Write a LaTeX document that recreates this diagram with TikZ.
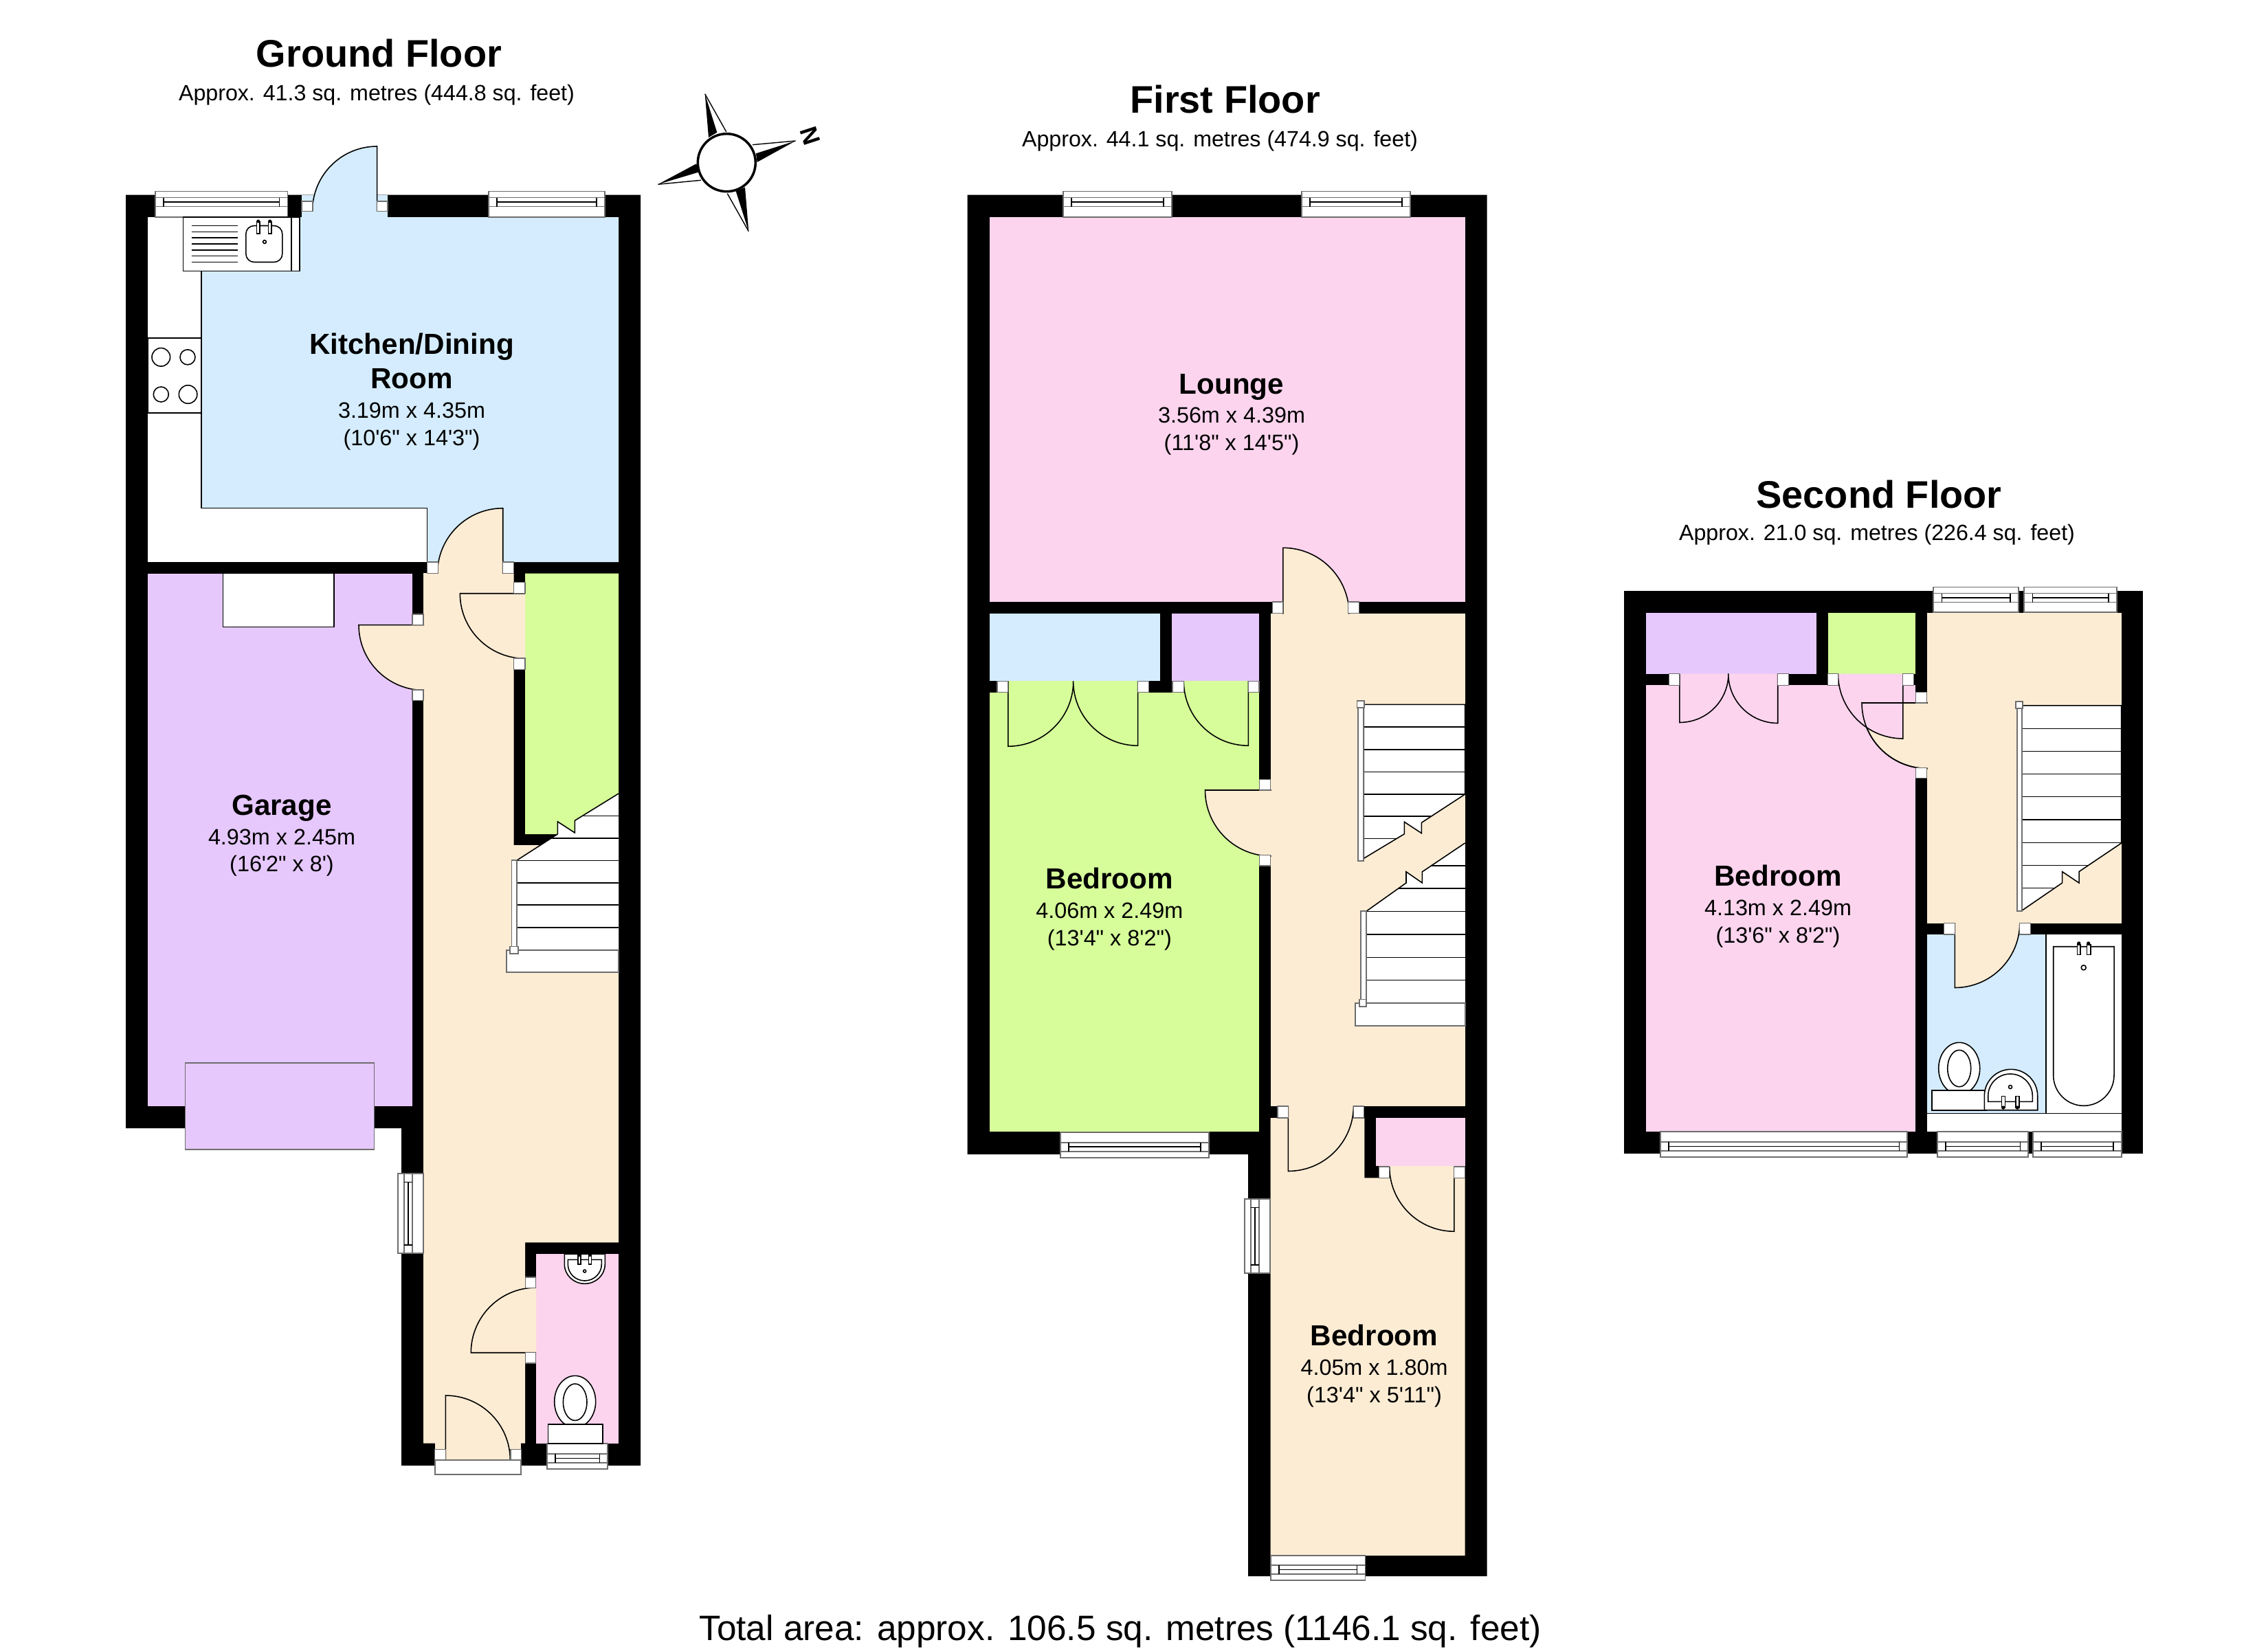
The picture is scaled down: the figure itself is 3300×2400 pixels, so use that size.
\documentclass[tikz,border=0pt]{standalone}
\usepackage{fontspec}
\newfontfamily\planfont{Liberation Sans}
\definecolor{roomblue}{RGB}{212,236,253}
\definecolor{roompurple}{RGB}{230,200,252}
\definecolor{roomgreen}{RGB}{214,253,154}
\definecolor{roomcream}{RGB}{253,236,212}
\definecolor{roompink}{RGB}{252,212,238}
\definecolor{framegrey}{RGB}{110,110,110}
\tikzset{
    wall/.style={fill=black},
    fineline/.style={draw=black, line width=0.45pt},
    fixture/.style={draw=black, line width=0.45pt, fill=white},
    jamb/.style={draw=framegrey, line width=0.3pt, fill=white},
    frame/.style={draw=framegrey, line width=0.55pt, fill=white},
    floortitle/.style={font=\planfont\bfseries\fontsize{15.9}{18}\selectfont, inner sep=0pt},
    floorarea/.style={font=\planfont\fontsize{9.15}{11}\selectfont, inner sep=0pt},
    roomlabel/.style={font=\planfont\fontsize{9.2}{11.2}\selectfont, align=center, inner sep=0pt},
    totalarea/.style={font=\planfont\fontsize{14.6}{17}\selectfont, inner sep=0pt}
}
% hinge x, hinge y, leaf angle, end angle, radius, colour
\newcommand{\doorswing}[6]{
    \fill[#6] (#1,#2) -- +(#3:#5) arc[start angle=#3, end angle=#4, radius=#5] -- cycle;
    \draw[fineline] (#1,#2) -- +(#3:#5) arc[start angle=#3, end angle=#4, radius=#5];
}
% left x, right x, outer y, inner y, direction to the inside
\newcommand{\hwindow}[5]{
    \draw[frame] (#1,#3) rectangle (#2,#4);
    \draw[frame] (#1,#3+#5*9) -- (#2,#3+#5*9) (#1,#3+#5*22) -- (#2,#3+#5*22);
    \draw[fineline] (#1+12,#3+#5*9) -- (#1+12,#3+#5*22) (#2-12,#3+#5*9) -- (#2-12,#3+#5*22) (#1+12,#3+#5*15.5) -- (#2-12,#3+#5*15.5);
}
% outer x, inner x, top y, bottom y
\newcommand{\vwindow}[4]{
    \draw[frame] (#1,#3) rectangle (#2,#4);
    \draw[frame] (#1+8.5,#3) -- (#1+8.5,#4) (#1+21,#3) -- (#1+21,#4);
    \draw[fineline] (#1+8.5,#3+12) -- (#1+21,#3+12) (#1+8.5,#4-12) -- (#1+21,#4-12) (#1+14.7,#3+12) -- (#1+14.7,#4-12);
}
\newcommand{\roomname}[1]{{\fontsize{12}{14}\selectfont\bfseries #1}}
\begin{document}
\begin{tikzpicture}[x=0.01cm, y=-0.01cm]
    \useasboundingbox (0,0) rectangle (3300,2400);

    % Ground Floor walls and rooms
    \fill[wall] (183,283.6) -- (932,283.6) -- (932,2133) -- (584,2133) -- (584,1642) -- (183,1642) -- cycle;
    \fill[white] (215,316) rectangle (900,818);
    \fill[roomblue] (293,316) -- (900,316) -- (900,818) -- (621.5,818) -- (621.5,739.7) -- (293,739.7) -- cycle;
    \fill[roomblue] (439,283.6) rectangle (564,316);
    \draw[fineline] (293,394) -- (293,739.7) -- (621.5,739.7) -- (621.5,818);
    \fill[roompurple] (215,834.6) rectangle (600,1610);
    \fill[roomcream] (616,834) -- (747.6,834) -- (747.6,1230) -- (785.6,1230) -- (811.3,1214) -- (900,1214) -- (900,1808.3) -- (764,1808.3) -- (764,2100.7) -- (616,2100.7) -- cycle;
    \fill[roomgreen] (764,834.6) -- (900,834.6) -- (900,1155) -- (836.3,1194.3) -- (836.3,1212) -- (811.3,1195.8) -- (811.3,1214) -- (764,1214) -- cycle;
    \fill[roompink] (780,1825) rectangle (900,2100.7);
    \fill[roomcream] (632.7,2100) rectangle (758.3,2109.3);
    \fill[roomcream] (648.3,2100) rectangle (743,2125);

    % Ground Floor stairs
    \draw[fixture] (900,1155) -- (836.3,1194.3) -- (836.3,1212) -- (811.3,1195.8) -- (811.3,1214) -- (751.6,1252.4) -- (751.6,1382.6) -- (900,1382.6);
    \draw[fineline] (847,1187.6) -- (900,1187.6) (802.3,1219.8) -- (900,1219.8) (751.6,1252.4) -- (900,1252.4) (751.6,1285) -- (900,1285) (751.6,1317) -- (900,1317) (751.6,1350) -- (900,1350);
    \draw[frame] (737.3,1382.6) rectangle (900,1415);
    \draw[frame] (744.5,1252.4) rectangle (751.6,1383);
    \draw[frame] (742.4,1377.5) rectangle (753.7,1388);

    % Ground Floor doors
    \doorswing{548.6}{307}{-90}{-180}{94}{roomblue}
    \doorswing{731.7}{835}{-90}{-180}{95.3}{roomcream}
    \doorswing{764}{863.7}{180}{90}{94.7}{roomcream}
    \doorswing{617}{909.6}{180}{90}{95}{roomcream}
    \doorswing{780}{1968.7}{180}{270}{94.7}{roomcream}
    \doorswing{648.3}{2125}{-90}{0}{94}{roomcream}
    \draw[jamb] (439,293) rectangle (455,307.5);
    \draw[jamb] (548.6,293) rectangle (564,307.5);
    \draw[jamb] (621.5,818) rectangle (637.3,834.6);
    \draw[jamb] (731.7,818) rectangle (747.6,834.6);
    \draw[jamb] (747.6,847.3) rectangle (764,863.7);
    \draw[jamb] (747.6,958) rectangle (764,974.4);
    \draw[jamb] (600,894) rectangle (616,909.6);
    \draw[jamb] (600,1004) rectangle (616,1019.3);
    \draw[jamb] (764.3,1859) rectangle (779.6,1874.3);
    \draw[jamb] (764.3,1968.7) rectangle (779.6,1984);
    \draw[jamb] (632.7,2109.3) rectangle (648.3,2125);
    \draw[jamb] (743,2109.3) rectangle (758.3,2125);
    \draw[frame] (632.7,2125) rectangle (758.3,2146);

    % Ground Floor windows
    \hwindow{226}{418.5}{278.5}{316}{1}
    \hwindow{711}{880}{278.5}{316}{1}
    \hwindow{795.7}{884.3}{2138}{2101.3}{-1}
    \vwindow{579.3}{616}{1708.3}{1824}

    % Ground Floor fittings
    \draw[fixture] (266.4,316) rectangle (436,394.3);
    \draw[fineline] (424,316) -- (424,394.3);
    \draw[fineline] (278.7,328.5) -- (345.5,328.5) (278.7,337.3) -- (345.5,337.3) (278.7,346.1) -- (345.5,346.1) (278.7,355) -- (345.5,355) (278.7,363.8) -- (345.5,363.8) (278.7,372.6) -- (345.5,372.6) (278.7,381.5) -- (345.5,381.5);
    \draw[fixture, rounded corners=0.12cm] (357.8,328.5) rectangle (410.8,381.5);
    \draw[fixture] (373.5,323) rectangle (378,340);
    \draw[fixture] (390.5,323) rectangle (395,340);
    \fill[black] (375.7,322) circle (2.5);
    \fill[black] (392.7,322) circle (2.5);
    \draw[fixture] (385,352) circle (2.4);
    \draw[fixture] (215,492) rectangle (293,601);
    \draw[fixture] (234.3,519.8) circle (13.3);
    \draw[fixture] (273,519.8) circle (11);
    \draw[fixture] (234.3,574) circle (11);
    \draw[fixture] (273.6,574) circle (13.3);
    \draw[fixture] (324.6,834.6) rectangle (486,912.6);
    \draw[draw=framegrey, line width=0.55pt, fill=roompurple] (269.5,1547) rectangle (544.5,1673);
    \draw[fixture] (836.7,2040) circle [x radius=30, y radius=37.7];
    \draw[fixture] (836.7,2040.7) circle [x radius=17.3, y radius=26.7];
    \draw[fixture] (797.3,2072.7) rectangle (876.7,2100.7);
    \draw[fixture] (821.3,1825) -- (821.3,1840) arc[start angle=180, end angle=0, x radius=29.5, y radius=28.3] -- (880.3,1825) -- cycle;
    \draw[fixture] (826.3,1833.3) -- (875.3,1833.3) -- (875.3,1840) arc[start angle=0, end angle=180, x radius=24.5, y radius=24] -- cycle;
    \draw[fixture] (850.7,1850) circle (2);
    \draw[fixture] (841,1827) rectangle (845,1840);
    \draw[fixture] (856.3,1827) rectangle (860.3,1840);
    \fill[black] (843,1827) circle (2);
    \fill[black] (858.3,1827) circle (2);

    % First Floor walls and rooms
    \fill[wall] (1407.7,283.6) -- (2163.7,283.6) -- (2163.7,2294) -- (1816.2,2294) -- (1816.2,1680) -- (1407.7,1680) -- cycle;
    \fill[roompink] (1439.8,316) rectangle (2131.6,876);
    \fill[roomcream] (1848.5,892.8) rectangle (2131.6,1610);
    \fill[roomcream] (1866.8,876) rectangle (1961.8,893.5);
    \fill[roomblue] (1439.8,892.8) rectangle (1688.3,991.2);
    \fill[roompurple] (1705,892.8) rectangle (1832,991.2);
    \fill[roomgreen] (1439.8,1007.5) rectangle (1832,1647.4);
    \fill[roomgreen] (1466.8,991.2) rectangle (1655.6,1008);
    \fill[roomgreen] (1722.4,991.2) rectangle (1816.3,1008);
    \fill[roomcream] (1848.5,1627) -- (1985.4,1627) -- (1985.4,1714.3) -- (2131.6,1714.3) -- (2131.6,2264) -- (1848.5,2264) -- cycle;
    \fill[roomcream] (1874.4,1609) rectangle (1969,1628);
    \fill[roompink] (2002.2,1627) rectangle (2131.6,1697);
    \fill[roomcream] (2021.7,1697) rectangle (2115.9,1715);

    % First Floor stairs
    \draw[fixture] (1984.2,1025.4) -- (2131.6,1025.4) -- (2131.6,1156) -- (2068.4,1197.3) -- (2068.4,1212.7) -- (2043.4,1196.3) -- (2043.4,1213.7) -- (1984.2,1249.4) -- cycle;
    \draw[fineline] (1984.2,1058) -- (2131.6,1058) (1984.2,1090.7) -- (2131.6,1090.7) (1984.2,1123.4) -- (2131.6,1123.4) (1984.2,1156) -- (2131.6,1156) (1984.2,1188) -- (2082.6,1188) (1984.2,1220.3) -- (2032.5,1220.3);
    \draw[frame] (1976,1025) rectangle (1984,1253);
    \draw[frame] (1974.5,1020) rectangle (1985,1030);
    \draw[fixture] (2131.6,1227) -- (2069.4,1268.8) -- (2069.4,1285) -- (2046,1268.8) -- (2046,1285) -- (1987.8,1326.4) -- (1987.8,1459.6) -- (2131.6,1459.6);
    \draw[fineline] (2082.5,1260) -- (2131.6,1260) (2034.8,1293) -- (2131.6,1293) (1987.8,1326.4) -- (2131.6,1326.4) (1987.8,1360) -- (2131.6,1360) (1987.8,1393.3) -- (2131.6,1393.3) (1987.8,1426.4) -- (2131.6,1426.4);
    \draw[frame] (1972.4,1459.6) rectangle (2131.6,1492.8);
    \draw[frame] (1979.6,1326.4) rectangle (1987.8,1459.6);
    \draw[frame] (1977.6,1454.5) rectangle (1988.3,1465);

    % First Floor doors
    \doorswing{1866.8}{893.5}{-90}{0}{96.2}{roomcream}
    \doorswing{1466.8}{991.2}{90}{0}{95}{roomgreen}
    \doorswing{1655.6}{991.2}{90}{180}{94}{roomgreen}
    \doorswing{1816.3}{991.2}{90}{180}{94}{roomgreen}
    \doorswing{1849.5}{1150}{180}{90}{96}{roomcream}
    \doorswing{1874.4}{1609.5}{90}{0}{95}{roomcream}
    \doorswing{2115.9}{1698}{90}{180}{94.2}{roomcream}
    \draw[jamb] (1851.5,876) rectangle (1866.8,892.8);
    \draw[jamb] (1961.7,876) rectangle (1977.6,892.8);
    \draw[jamb] (1451,991.2) rectangle (1466.8,1007.5);
    \draw[jamb] (1655.6,991.2) rectangle (1671.4,1007.5);
    \draw[jamb] (1706,991.2) rectangle (1722.4,1007.5);
    \draw[jamb] (1816.3,991.2) rectangle (1832,1007.5);
    \draw[jamb] (1832.7,1134.6) rectangle (1848.5,1150);
    \draw[jamb] (1832.7,1244.3) rectangle (1848.5,1260);
    \draw[jamb] (1859,1610) rectangle (1874.4,1627);
    \draw[jamb] (1969,1610) rectangle (1984.2,1627);
    \draw[jamb] (2006,1698) rectangle (2021.7,1714.3);
    \draw[jamb] (2115.9,1698) rectangle (2131.6,1714.3);

    % First Floor windows
    \hwindow{1547}{1705}{278.5}{316}{1}
    \hwindow{1894}{2052}{278.5}{316}{1}
    \hwindow{1543}{1759}{1684.7}{1648}{-1}
    \hwindow{1848.8}{1986.5}{2300}{2264}{-1}
    \vwindow{1811.2}{1848}{1745.4}{1853}

    % Second Floor walls and rooms
    \fill[wall] (2362.8,860) rectangle (3118.4,1679.3);
    \fill[roompurple] (2395,892.4) rectangle (2643.4,980.5);
    \fill[roomgreen] (2660.2,892.4) rectangle (2787.2,980.5);
    \fill[roompink] (2395,997.3) rectangle (2787.2,1647);
    \fill[roompink] (2443.9,980.5) rectangle (2586.7,998);
    \fill[roompink] (2674.5,980.5) rectangle (2768.9,998);
    \fill[roomcream] (2803.6,892.4) rectangle (3086.7,1343.5);
    \fill[roomcream] (2844.3,1343) rectangle (2938.7,1360.5);
    \fill[roomblue] (2803.7,1360) rectangle (2976.7,1620.3);
    \fill[white] (2976.7,1360) rectangle (3086.7,1620.3);
    \fill[white] (2803.7,1620.3) rectangle (3086.7,1647);
    \draw[fineline] (2976.7,1360) -- (2976.7,1620.3) (2803.7,1620.3) -- (3086.7,1620.3);

    % Second Floor stairs
    \draw[fixture] (2941.8,1026.8) -- (3086.7,1026.8) -- (3086.7,1227) -- (3025,1268.6) -- (3025,1285) -- (3000.5,1268.6) -- (3000.5,1285) -- (2941.8,1325.3) -- cycle;
    \draw[fineline] (2941.8,1060.4) -- (3086.7,1060.4) (2941.8,1093.4) -- (3086.7,1093.4) (2941.8,1126.3) -- (3086.7,1126.3) (2941.8,1159.6) -- (3086.7,1159.6) (2941.8,1193.2) -- (3086.7,1193.2) (2941.8,1226.5) -- (3086.7,1226.5) (2941.8,1259.4) -- (3038.6,1259.4) (2941.8,1292.3) -- (2989.9,1292.3);
    \draw[frame] (2934.7,1026.4) rectangle (2941.8,1326);
    \draw[frame] (2933.2,1021) rectangle (2943.4,1031.3);

    % Second Floor doors
    \doorswing{2443.9}{980.5}{90}{0}{71}{roompink}
    \doorswing{2586.7}{980.5}{90}{180}{72}{roompink}
    \doorswing{2804.5}{1023}{180}{90}{95.5}{roomcream}
    \doorswing{2768.9}{980.5}{90}{180}{94.5}{roompink}
    \draw[fineline] (2804.5,1023) -- (2709,1023) arc[start angle=180, end angle=90, radius=95.5];
    \doorswing{2844.3}{1343}{90}{0}{94.5}{roomcream}
    \draw[jamb] (2428,980.5) rectangle (2443.9,997.3);
    \draw[jamb] (2586.7,980.5) rectangle (2602,997.3);
    \draw[jamb] (2659.2,980.5) rectangle (2674.5,997.3);
    \draw[jamb] (2768.9,980.5) rectangle (2784.2,997.3);
    \draw[jamb] (2787.7,1007.2) rectangle (2803,1023);
    \draw[jamb] (2787.7,1117.5) rectangle (2803,1132.8);
    \draw[jamb] (2828.7,1343.5) rectangle (2844.3,1360);
    \draw[jamb] (2938.7,1343.5) rectangle (2954,1360);

    % Second Floor windows
    \hwindow{2813.3}{2936.7}{854.5}{891}{1}
    \hwindow{2945.4}{3080}{854.5}{891}{1}
    \hwindow{2416}{2775.3}{1684}{1647}{-1}
    \hwindow{2819}{2951.3}{1684}{1647}{-1}
    \hwindow{2958}{3087}{1684}{1647}{-1}

    % Second Floor fittings
    \draw[fixture] (2987.7,1377.7) -- (3076,1377.7) -- (3076,1565) arc[start angle=0, end angle=180, x radius=44.15, y radius=44.3] -- cycle;
    \draw[fixture] (3022.3,1375) rectangle (3027,1389.3);
    \draw[fixture] (3036.3,1375) rectangle (3041.7,1389.3);
    \fill[black] (3024.7,1373) circle (2.7);
    \fill[black] (3038.7,1373) circle (2.7);
    \draw[fixture] (3031.7,1408.3) circle (3.5);
    \draw[fixture] (2850.7,1555) circle [x radius=30, y radius=37.7];
    \draw[fixture] (2850.7,1555) circle [x radius=17, y radius=26.7];
    \draw[fixture] (2811,1587) rectangle (2890,1615.7);
    \draw[fixture] (2887.3,1615.7) -- (2887.3,1595) arc[start angle=180, end angle=360, radius=38.7] -- (2964.7,1615.7) -- cycle;
    \draw[fixture] (2892.7,1603.3) -- (2892.7,1595) arc[start angle=180, end angle=360, x radius=32.3, y radius=32] -- (2957.3,1603.3) -- cycle;
    \draw[fixture] (2925,1582) circle (2.5);
    \draw[fixture] (2912.3,1595.3) rectangle (2917.3,1611.7);
    \draw[fixture] (2933,1595.3) rectangle (2938,1611.7);
    \fill[black] (2914.7,1612) circle (2.7);
    \fill[black] (2935.3,1612) circle (2.7);

    % North marker
    \fill[black] (1025.7,136.7) -- (1031,200) -- (1043.3,192.7) -- cycle;
    \fill[black] (1157.7,205) -- (1100,223.3) -- (1101.7,236) -- cycle;
    \fill[black] (1089.3,336.7) -- (1070.7,278.3) -- (1084,272.7) -- cycle;
    \fill[black] (957.3,268.3) -- (1013.3,238.3) -- (1016,250.7) -- cycle;
    \draw[line width=0.4pt] (1025.7,136.7) -- (1056.7,191.7) (1157.7,205) -- (1095,210.7) (1089.3,336.7) -- (1058.3,281.7) (957.3,268.3) -- (1020,262.3);
    \draw[draw=black, line width=1pt, fill=white] (1057.3,236.7) circle (42);
    \node[font=\planfont\bfseries\fontsize{10}{12}\selectfont, inner sep=0pt, rotate=-72] (north) at (1179.3,198.3) {N};

    % Titles
    \node[floortitle] (ground_title) at (551.4,78) {Ground Floor};
    \node[floorarea] (ground_area) at (548,138) {Approx. 41.3 sq. metres (444.8 sq. feet)};
    \node[floortitle] (first_title) at (1782.6,145) {First Floor};
    \node[floorarea] (first_area) at (1775,205) {Approx. 44.1 sq. metres (474.9 sq. feet)};
    \node[floortitle] (second_title) at (2734,720) {Second Floor};
    \node[floorarea] (second_area) at (2731,778.5) {Approx. 21.0 sq. metres (226.4 sq. feet)};
    \node[totalarea] (total_area) at (1630,2374) {Total area: approx. 106.5 sq. metres (1146.1 sq. feet)};

    % Room labels
    \node[roomlabel] (kitchen) at (599,570) {\roomname{Kitchen/Dining}\\[3pt] \roomname{Room}\\[1pt] 3.19m x 4.35m\\ (10'6" x 14'3")};
    \node[roomlabel] (garage) at (410,1216) {\roomname{Garage}\\[1pt] 4.93m x 2.45m\\ (16'2" x 8')};
    \node[roomlabel] (lounge) at (1792,603) {\roomname{Lounge}\\[1pt] 3.56m x 4.39m\\ (11'8" x 14'5")};
    \node[roomlabel] (bedroom_one) at (1614.3,1323) {\roomname{Bedroom}\\[1pt] 4.06m x 2.49m\\ (13'4" x 8'2")};
    \node[roomlabel] (bedroom_two) at (1999.5,1988) {\roomname{Bedroom}\\[1pt] 4.05m x 1.80m\\ (13'4" x 5'11")};
    \node[roomlabel] (bedroom_three) at (2587,1319) {\roomname{Bedroom}\\[1pt] 4.13m x 2.49m\\ (13'6" x 8'2")};
\end{tikzpicture}
\end{document}
